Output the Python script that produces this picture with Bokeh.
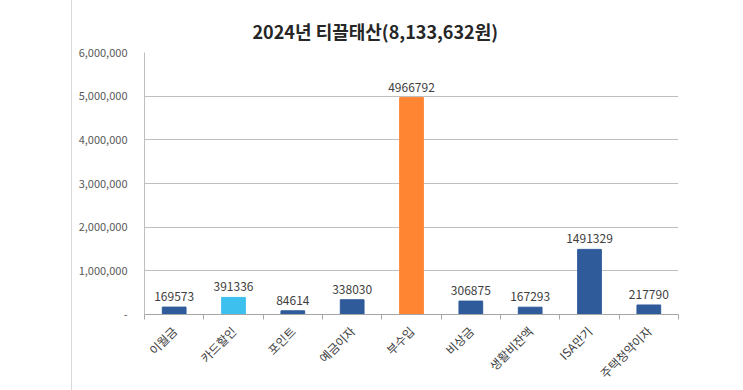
from bokeh.plotting import figure
from bokeh.models import ColumnDataSource, LinearAxis, FixedTicker, Range1d, Spacer, LabelSet, Grid
from bokeh.layouts import row
from bokeh.embed import file_html
from bokeh.resources import INLINE
from bokeh.core.properties import value

title_text = "2024년 티끌태산(8,133,632원)"
categories = ["이월금", "카드할인", "포인트", "예금이자", "부수입", "비상금", "생활비잔액", "ISA만기", "주택청약이자"]
amounts = [169573, 391336, 84614, 338030, 4966792, 306875, 167293, 1491329, 217790]
colors = ["#2F5B9A", "#3EC0EE", "#2F5B9A", "#2F5B9A", "#FF8533", "#2F5B9A", "#2F5B9A", "#2F5B9A", "#2F5B9A"]
y_ticks = [0, 1000000, 2000000, 3000000, 4000000, 5000000, 6000000]
y_tick_labels = ["-", "1,000,000", "2,000,000", "3,000,000", "4,000,000", "5,000,000", "6,000,000"]

FONT = "Noto Sans CJK KR"
n = len(categories)
centers = [i + 0.5 for i in range(n)]

src = ColumnDataSource(dict(x=centers, top=amounts, color=colors,
                            lbl=[str(v) for v in amounts]))

p = figure(width=668, height=390, output_backend="svg", toolbar_location=None,
           x_range=Range1d(0, n), y_range=Range1d(0, 6000000),
           min_border_left=72, min_border_right=62, min_border_top=52, min_border_bottom=74,
           x_axis_type=None, y_axis_type=None,
           styles={"border-left": "1px solid #d9d9d9"})
p.outline_line_color = None
p.background_fill_color = "white"
p.border_fill_color = "white"

p.title.text = title_text
p.title.align = "left"
p.title.offset = 108
p.title.text_font = FONT
p.title.text_font_size = "18px"
p.title.text_font_style = "bold"
p.title.text_color = "#262626"
p.title.standoff = 18

p.vbar(x="x", top="top", width=0.4, color="color", source=src)

labels = LabelSet(x="x", y="top", text="lbl", source=src, text_align="center",
                  text_baseline="bottom", y_offset=6, text_font=value(FONT),
                  text_font_size="12px", text_color="#404040")
p.add_layout(labels)

# y axis
yax = LinearAxis(ticker=FixedTicker(ticks=y_ticks))
yax.major_label_overrides = {t: l for t, l in zip(y_ticks, y_tick_labels)}
yax.major_tick_line_color = None
yax.minor_tick_line_color = None
yax.axis_line_color = "#bfbfbf"
yax.major_label_text_font = FONT
yax.major_label_text_font_size = "11px"
yax.major_label_text_color = "#595959"
yax.major_label_standoff = 11
p.add_layout(yax, "left")

# tick marks axis at category boundaries
tax = LinearAxis(ticker=FixedTicker(ticks=list(range(n + 1))))
tax.major_label_overrides = {i: "" for i in range(n + 1)}
tax.major_label_text_font_size = "0px"
tax.major_label_standoff = 0
tax.axis_line_color = "#a6a6a6"
tax.major_tick_line_color = "#a6a6a6"
tax.major_tick_in = 0
tax.major_tick_out = 5
tax.minor_tick_line_color = None
p.add_layout(tax, "below")

# category labels axis
lax = LinearAxis(ticker=FixedTicker(ticks=centers))
lax.major_label_overrides = {c: name for c, name in zip(centers, categories)}
lax.major_label_orientation = 0.785398
lax.axis_line_color = None
lax.major_tick_line_color = None
lax.minor_tick_line_color = None
lax.major_label_text_font = FONT
lax.major_label_text_font_size = "12px"
lax.major_label_text_color = "#404040"
lax.major_label_standoff = 3
p.add_layout(lax, "below")

p.xgrid.visible = False
p.ygrid.visible = False
g = Grid(dimension=1, ticker=FixedTicker(ticks=y_ticks[1:]), grid_line_color="#bfbfbf")
p.add_layout(g)

layout = row(Spacer(width=71, height=390), p)
open("out.html", "w").write(file_html(layout, INLINE))
